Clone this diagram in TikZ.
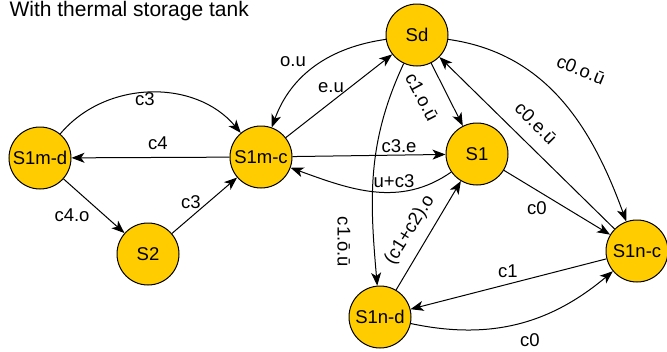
\documentclass[tikz,border=0pt]{standalone}
\usepackage{fontspec}
\setmainfont{Liberation Sans}
\usetikzlibrary{arrows.meta}
\definecolor{gold}{HTML}{FFCC00}
\begin{document}
\begin{tikzpicture}[x=1pt,y=-1pt,
  st/.style={circle,draw=black,line width=1pt,fill=gold,minimum size=62pt,inner sep=0pt,font=\fontsize{18.5}{20}\selectfont},
  ed/.style={-{Stealth[length=13pt,width=10pt,inset=3.5pt]},line width=1pt},
  lb/.style={font=\fontsize{18.5}{20}\selectfont,inner sep=0pt}]
\useasboundingbox (0,0) rectangle (667,351);
\node[anchor=west,font=\fontsize{21}{23}\selectfont] (title) at (6,11) {With thermal storage tank};
\node[st] (smd) at (40,158) {S1m-d};
\node[st] (smc) at (261,157) {S1m-c};
\node[st] (s2) at (148,254) {S2};
\node[st] (sd) at (417,35) {Sd};
\node[st] (s1) at (477,154) {S1};
\node[st] (snc) at (637,251) {S1n-c};
\node[st] (snd) at (380,317) {S1n-d};
% connectors
\draw[ed] (smd) to[out=50,in=130] (smc);
\draw[ed] (smc) -- (smd);
\draw[ed] (smd) -- (s2);
\draw[ed] (s2) -- (smc);
\draw[ed] (smc) -- (sd);
\draw[ed] (sd) to[out=188,in=70] (smc);
\draw[ed] (smc) -- (s1);
\draw[ed] (s1) to[out=215,in=-20] (smc);
\draw[ed] (sd) -- (s1);
\draw[ed] (sd) to[out=245,in=95] (snd);
\draw[ed] (snd) -- (s1);
\draw[ed] (s1) -- (snc);
\draw[ed] (snc) -- (sd);
\draw[ed] (sd) to[out=-8,in=110] (snc);
\draw[ed] (snc) -- (snd);
\draw[ed] (snd) to[out=-12,in=220] (snc);
% labels
\node[lb] (l1) at (145,99) {c3};
\node[lb] (l2) at (158,143) {c4};
\node[lb] (l3) at (72,215) {c4.o};
\node[lb] (l4) at (191,202) {c3};
\node[lb] (l5) at (293,62) {o.u};
\node[lb] (l6) at (331,88) {e.u};
\node[lb] (l7) at (399,146) {c3.e};
\node[lb] (l8) at (394,181) {u+c3};
\node[lb,rotate=-62] (l9) at (422,97) {c1.o.ū};
\node[lb,rotate=-90] (l10) at (344,242) {c1.ō.ū};
\node[lb,rotate=58] (l11) at (410,230) {(c1+c2).o};
\node[lb] (l12) at (537,208) {c0};
\node[lb,rotate=-45] (l13) at (536,123) {c0.e.ū};
\node[lb,rotate=-22] (l14) at (581,70) {c0.o.ū};
\node[lb] (l15) at (508,271) {c1};
\node[lb] (l16) at (530,340) {c0};
\end{tikzpicture}
\end{document}
